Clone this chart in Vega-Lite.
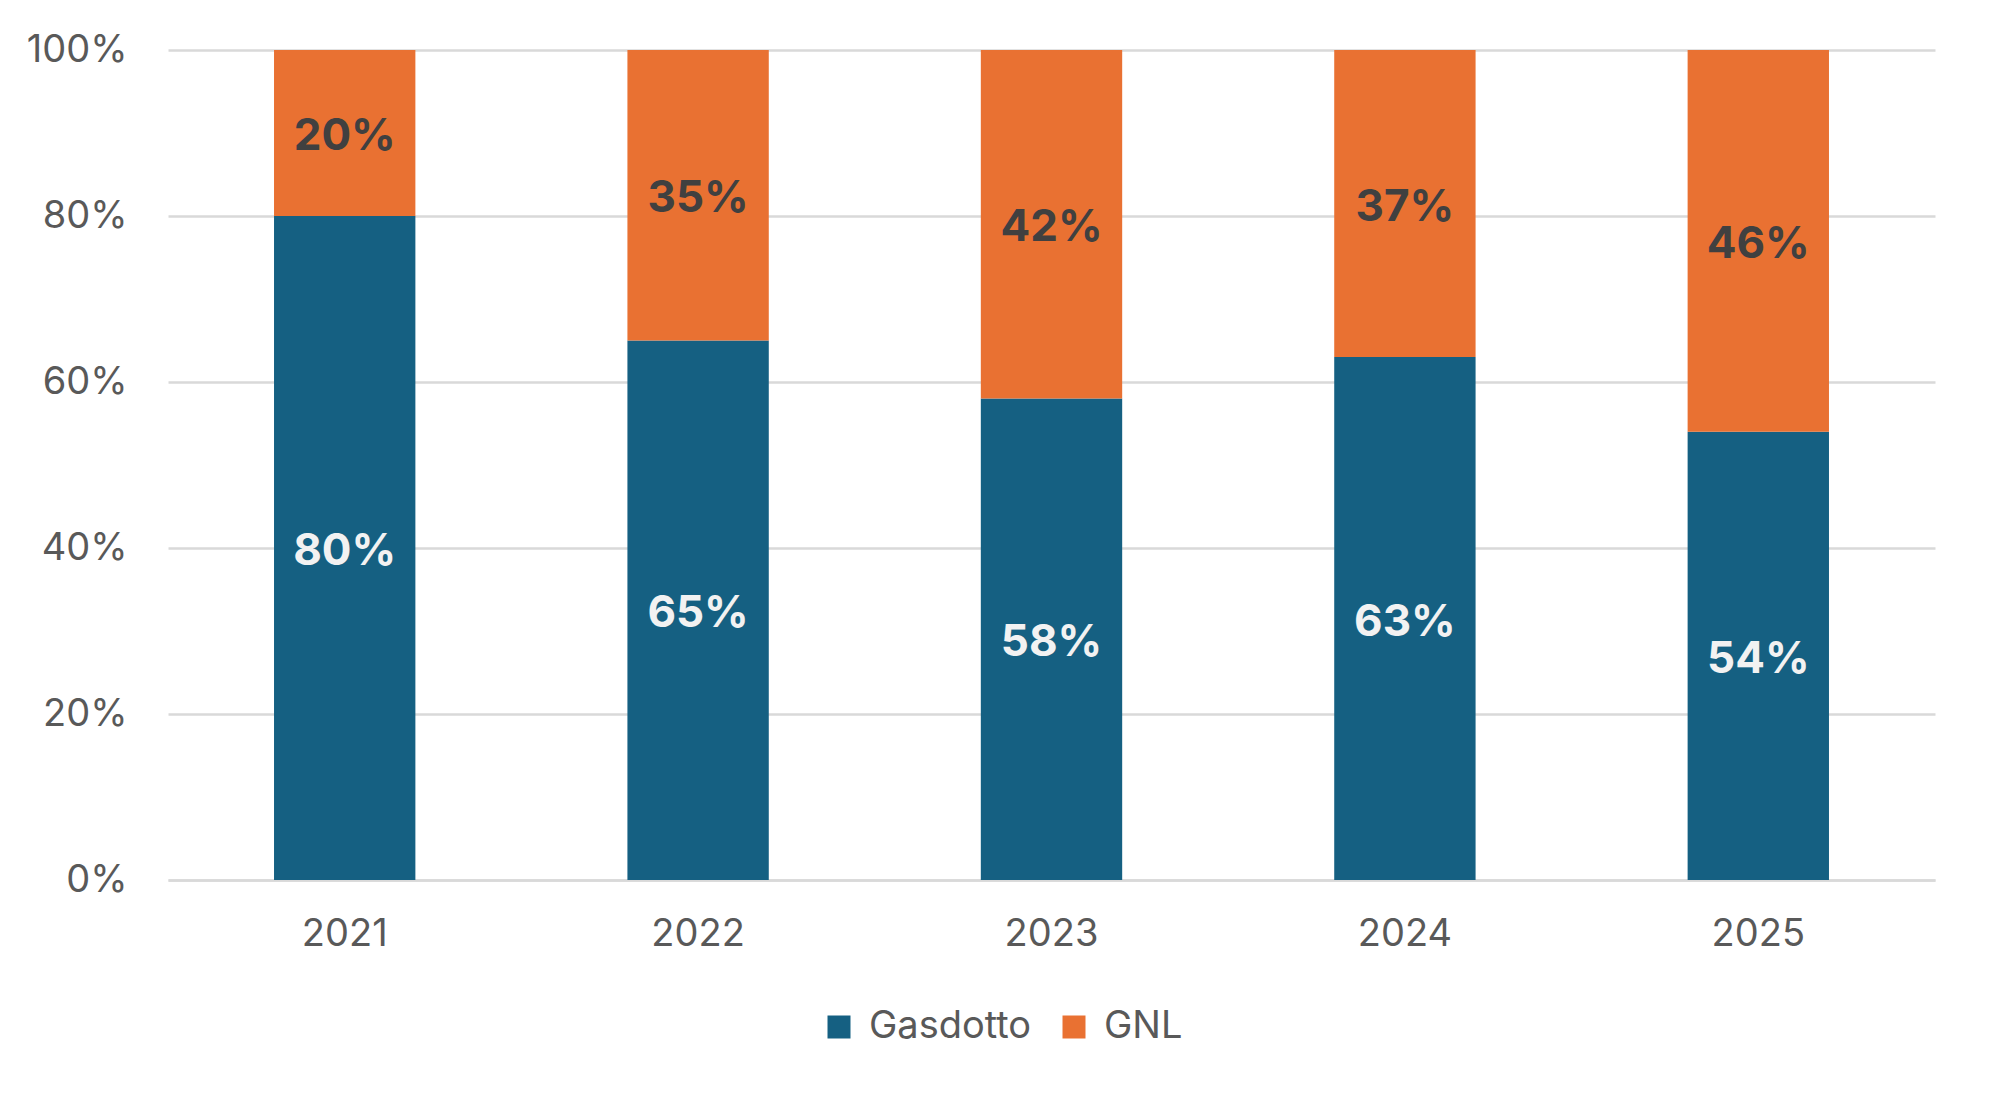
{
  "$schema": "https://vega.github.io/schema/vega-lite/v6.json",
  "width": 1767,
  "height": 830,
  "autosize": {"type": "none"},
  "padding": {"left": 168, "top": 50, "right": 58, "bottom": 220},
  "background": "white",
  "config": {
    "view": {"stroke": null},
    "font": "Inter"
  },
  "data": {
    "values": [
      {"anno": "2021", "serie": "Gasdotto", "share": 0.80},
      {"anno": "2021", "serie": "GNL", "share": 0.20},
      {"anno": "2022", "serie": "Gasdotto", "share": 0.65},
      {"anno": "2022", "serie": "GNL", "share": 0.35},
      {"anno": "2023", "serie": "Gasdotto", "share": 0.58},
      {"anno": "2023", "serie": "GNL", "share": 0.42},
      {"anno": "2024", "serie": "Gasdotto", "share": 0.63},
      {"anno": "2024", "serie": "GNL", "share": 0.37},
      {"anno": "2025", "serie": "Gasdotto", "share": 0.54},
      {"anno": "2025", "serie": "GNL", "share": 0.46}
    ]
  },
  "transform": [
    {
      "stack": "share",
      "groupby": ["anno"],
      "sort": [{"field": "serie", "order": "descending"}],
      "as": ["y0", "y1"]
    }
  ],
  "encoding": {
    "x": {
      "field": "anno",
      "type": "nominal",
      "scale": {"paddingInner": 0.6, "paddingOuter": 0.3},
      "axis": {
        "title": null,
        "labelAngle": 0,
        "ticks": false,
        "domainColor": "#D9D9D9",
        "domainWidth": 2.5,
        "labelFontSize": 38,
        "labelColor": "#595959",
        "labelPadding": 35
      }
    }
  },
  "layer": [
    {
      "mark": {"type": "bar"},
      "encoding": {
        "y": {
          "field": "y0",
          "type": "quantitative",
          "scale": {"domain": [0, 1]},
          "axis": {
            "title": null,
            "format": ".0%",
            "values": [0, 0.2, 0.4, 0.6, 0.8, 1],
            "domain": false,
            "ticks": false,
            "labelFontSize": 38,
            "labelColor": "#595959",
            "labelPadding": 41,
            "gridColor": "#D9D9D9",
            "gridWidth": 2.5
          }
        },
        "y2": {"field": "y1"},
        "color": {
          "field": "serie",
          "type": "nominal",
          "scale": {"domain": ["Gasdotto", "GNL"], "range": ["#156082", "#E97132"]},
          "legend": {
            "title": null,
            "orient": "none",
            "direction": "horizontal",
            "legendX": 652,
            "legendY": 958,
            "symbolType": "square",
            "symbolSize": 529,
            "symbolStrokeWidth": 0,
            "symbolOpacity": 1,
            "labelFontSize": 38,
            "labelLimit": 400,
            "labelColor": "#595959",
            "labelOffset": 11,
            "columnPadding": 23
          }
        }
      }
    },
    {
      "transform": [
        {"fold": ["y0", "y1"], "as": ["estremo", "v"]},
        {"aggregate": [{"op": "mean", "field": "v", "as": "mid"}], "groupby": ["anno", "serie", "share"]}
      ],
      "mark": {"type": "text", "fontSize": 44, "fontWeight": "bold", "baseline": "middle", "align": "center", "dy": 4},
      "encoding": {
        "y": {"field": "mid", "type": "quantitative"},
        "text": {"field": "share", "type": "quantitative", "format": ".0%"},
        "color": {
          "condition": {"test": "datum.serie === 'GNL'", "value": "#404040"},
          "value": "#F2F2F2"
        }
      }
    }
  ]
}
